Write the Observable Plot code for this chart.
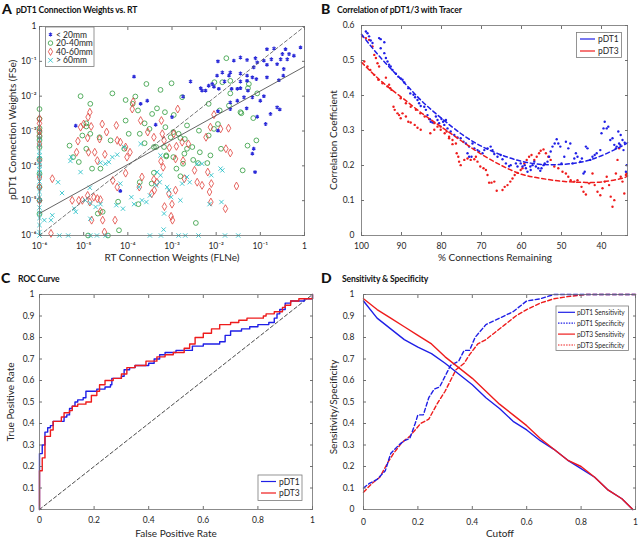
<!DOCTYPE html>
<html><head><meta charset="utf-8">
<script src="https://cdn.jsdelivr.net/npm/d3@7"></script>
<script src="https://cdn.jsdelivr.net/npm/@observablehq/plot@0.6"></script>
<style>
body{margin:0;background:#fff;}
#fig{position:relative;width:640px;height:539px;overflow:hidden;background:#fff;font-family:Lato,"Open Sans",sans-serif;}
.panel{position:absolute;}
.panel svg{display:block;overflow:visible;}
#overlay{position:absolute;left:0;top:0;pointer-events:none;}
</style></head>
<body><div id="fig"></div>
<script>
// ---------- Panel A data: [log10 FLNe, log10 FSe] ----------
const nearPts = [[-0.09,-0.6],[-0.43,-0.65],[-0.69,-0.63],[-0.85,-0.65],[-0.5,-0.79],[-0.39,-0.94],[-0.54,-0.94],[-0.75,-0.94],[-0.92,-0.98],[-1.07,-1.03],[-1.11,-0.91],[-1.3,-0.96],[-1.45,-0.89],[-1.6,-0.98],[-1.96,-1.0],[-1.71,-1.41],[-1.15,-1.17],[-0.85,-1.1],[-0.47,-1.22],[-0.48,-1.41],[-0.58,-1.54],[-1.18,-1.46],[-1.09,-1.51],[-1.68,-1.32],[-1.45,-1.35],[-1.3,-1.41],[-1.86,-1.32],[-1.98,-1.41],[-1.81,-1.58],[-2.09,-1.65],[-2.17,-1.7],[-2.35,-1.77],[-2.32,-1.84],[-2.24,-1.84],[-2.05,-1.73],[-1.94,-1.79],[-1.65,-1.79],[-1.52,-1.79],[-1.45,-1.77],[-1.28,-1.84],[-1.18,-2.03],[-1.37,-2.03],[-1.52,-2.13],[-1.68,-2.18],[-1.0,-2.13],[-0.92,-2.0],[-1.45,-1.58],[-0.85,-1.46],[-0.35,-0.79],[-0.24,-0.84],[-0.62,-1.08],[-1.3,-1.56],[-1.68,-2.37],[-1.96,-2.43],[-1.31,-2.35],[-0.62,-2.32],[-0.56,-2.38],[-0.77,-2.51],[-1.07,-2.59],[-1.96,-2.99],[-0.88,-2.8],[-1.15,-3.51],[-1.18,-3.65],[-1.12,-4.18],[-2.58,-1.58],[-2.75,-2.01],[-3.56,-2.13],[-3.71,-2.22],[-3.86,-1.44],[-3.37,-2.82],[-3.0,-2.6],[-5.18,-2.85],[-4.17,-4.72]];
const midPts = [[-1.77,-0.91],[-1.68,-1.56],[-1.86,-1.6],[-2.04,-1.6],[-1.26,-1.65],[-1.28,-1.77],[-1.68,-1.92],[-1.07,-1.92],[-2.17,-2.22],[-2.77,-2.03],[-3.01,-1.63],[-3.58,-1.65],[-3.26,-1.82],[-3.83,-2.01],[-4.05,-2.11],[-3.89,-2.22],[-4.35,-1.92],[-4.85,-2.22],[-5.07,-2.0],[-3.77,-2.41],[-3.34,-2.35],[-3.16,-2.46],[-3.45,-2.51],[-2.96,-2.54],[-4.05,-2.7],[-3.62,-2.78],[-3.15,-2.89],[-2.97,-3.03],[-2.66,-2.84],[-4.94,-2.78],[-4.94,-2.87],[-4.85,-3.08],[-5.03,-3.13],[-4.64,-3.18],[-5.32,-3.42],[-5.24,-3.75],[-4.94,-3.51],[-4.39,-3.27],[-3.98,-3.08],[-3.62,-3.35],[-3.36,-3.46],[-3.18,-3.46],[-2.85,-3.08],[-2.71,-3.23],[-2.39,-2.99],[-2.17,-3.13],[-2.05,-2.94],[-1.96,-2.8],[-1.45,-2.46],[-1.43,-2.49],[-1.16,-2.63],[-1.09,-3.27],[-1.29,-3.42],[-1.89,-3.51],[-2.13,-3.7],[-1.4,-4.13],[-2.2,-3.92],[-2.41,-3.92],[-2.75,-3.94],[-3.13,-3.7],[-3.13,-3.73],[-2.9,-4.08],[-2.81,-4.3],[-3.46,-4.51],[-3.41,-4.2],[-3.73,-4.47],[-4.22,-5.03],[-3.76,-5.1],[-4.68,-5.37],[-4.2,-5.85],[-2.46,-5.64],[-4.62,-4.08],[-4.81,-4.08],[-5.11,-3.89],[-2.97,-3.75],[-2.72,-3.65],[-2.54,-3.46],[-2.52,-3.83],[-3.41,-3.46],[-4.08,-3.51],[-3.73,-3.08],[-3.51,-2.94],[-3.03,-3.18],[-2.81,-3.2],[-2.66,-3.51],[-2.37,-3.61],[-1.92,-2.41],[-1.71,-2.27],[-4.57,-5.32],
 [-6,-2.37],[-6,-2.65],[-6,-2.92],[-6,-3.03],[-6,-3.16],[-6,-3.26],[-6,-3.46],[-6,-3.8],[-6,-4.23],[-6,-4.61],[-6,-4.99],[-6,-5.38],[-4.9,-6],[-4.45,-6]];
const farPts = [[-3.9,-2.37],[-3.88,-2.16],[-4.86,-2.46],[-4.58,-2.8],[-4.26,-2.84],[-4.9,-2.6],[-5.0,-2.8],[-5.07,-2.89],[-5.13,-3.29],[-4.89,-3.61],[-5.16,-3.61],[-4.91,-3.2],[-4.64,-3.23],[-4.75,-3.61],[-4.52,-3.67],[-4.69,-3.85],[-4.48,-3.03],[-4.24,-3.27],[-4.05,-3.46],[-3.95,-3.61],[-4.02,-3.75],[-4.05,-4.21],[-4.34,-4.42],[-4.24,-4.61],[-3.71,-2.7],[-3.55,-3.03],[-3.41,-3.18],[-3.22,-3.08],[-3.18,-3.27],[-2.96,-3.08],[-3.06,-3.48],[-2.9,-3.44],[-2.77,-3.32],[-2.63,-3.37],[-2.92,-3.8],[-2.75,-3.85],[-3.25,-3.87],[-3.2,-4.04],[-3.34,-4.47],[-3.41,-4.39],[-3.68,-4.32],[-3.74,-4.61],[-3.46,-4.8],[-3.07,-4.8],[-3.0,-5.1],[-2.92,-4.7],[-2.43,-4.47],[-2.19,-4.18],[-2.23,-3.18],[-2.13,-2.89],[-2.05,-2.53],[-1.9,-2.94],[-1.72,-2.92],[-1.78,-3.51],[-1.68,-3.63],[-2.11,-4.51],[-2.15,-4.75],[-2.12,-5.04],[-1.79,-5.23],[-1.54,-4.58],[-2.72,-4.37],[-2.49,-4.13],[-2.32,-4.56],[-3.4,-4.7],[-3.02,-5.45],[-2.99,-5.56],[-3.17,-5.17],[-2.87,-2.37],[-3.24,-2.7],[-5.03,-4.99],[-5.11,-4.99],[-4.77,-4.9],[-4.69,-4.94],[-4.62,-4.97],[-4.86,-5.04],[-4.57,-5.56],[-4.82,-5.56],[-4.53,-5.9],[-4.29,-5.56],[-4.62,-5.31],[-5.71,-4.37],[-5.74,-5.94],[-5.26,-4.99],[-4.83,-2.87],[-4.17,-3.32],[-4.91,-4.85],
 [-6,-2.65],[-6,-2.78],[-6,-2.99],[-6,-3.13],[-6,-3.37],[-6,-3.85],[-6,-4.32],[-6,-4.61],[-6,-4.99]];
const remotePts = [[-4.09,-3.46],[-4.24,-3.68],[-4.35,-3.75],[-4.51,-3.94],[-4.43,-3.89],[-4.62,-3.91],[-5.28,-3.75],[-5.3,-3.86],[-5.07,-4.18],[-5.58,-4.47],[-5.49,-4.78],[-5.71,-5.42],[-5.74,-5.56],[-5.89,-5.56],[-4.86,-4.63],[-4.96,-4.99],[-4.85,-5.07],[-4.62,-5.1],[-4.73,-5.18],[-4.85,-5.52],[-5.21,-5.23],[-5.18,-5.32],[-4.17,-4.51],[-3.75,-4.61],[-3.68,-4.99],[-3.86,-5.1],[-3.34,-4.18],[-3.26,-4.27],[-3.28,-4.47],[-3.36,-4.56],[-3.11,-4.61],[-3.07,-4.7],[-2.77,-4.51],[-2.66,-4.32],[-2.6,-4.47],[-2.43,-3.94],[-2.32,-3.94],[-2.11,-4.27],[-1.9,-4.08],[-1.86,-4.13],[-1.88,-5.04],[-2.15,-5.1],[-3.18,-5.37],[-3.19,-5.83],[-3.71,-3.37],[-4.11,-5.23],[-4.26,-5.13],[-3.5,-4.85],[-3.58,-5.04],[-3.92,-4.9],[-3.26,-3.7],[-3.02,-4.9],[-2.81,-4.99],
 [-6,-3.2],[-6,-3.4],[-6,-3.6],[-6,-3.7],[-6,-3.8],[-6,-3.9],[-6,-4.0],[-6,-4.1],[-6,-4.2],[-6,-4.3],[-6,-4.45],[-6,-4.6],[-6,-4.75],[-6,-4.9],[-6,-5.0],[-6,-5.2],[-6,-5.35],[-6,-5.5],[-6,-5.7],[-6,-5.9],[-6,-6],
 [-5.55,-6],[-5.35,-6],[-4.85,-6],[-4.7,-6],[-4.5,-6],[-3.5,-6],[-3.25,-6],[-2.85,-6],[-2.7,-6],[-2.4,-6],[-1.8,-6],[-1.5,-6]];
const groupNames = ["< 20mm","20-40mm","40-60mm","> 60mm"];
const fitLineA = [[1e-6, 4.3e-6],[1, 0.071]];   // regression line endpoints
const unityLineA = [[1e-6, 1e-6],[1, 1]];
const logTicksA = [1e-6,1e-5,1e-4,1e-3,1e-2,1e-1,1];

// ---------- Panel B data: [% remaining, correlation] ----------
const bDT1 = [[98.9,0.583],[98.5,0.578],[98.1,0.569],[97.7,0.557],[97.25,0.55],[95.6,0.564],[95.2,0.561],[94.3,0.552],[95.2,0.535],[94.3,0.521],[93.9,0.507],[93.5,0.497],[93.1,0.488],[92.7,0.483],[92.25,0.473],[91.4,0.462],[90.8,0.454],[90.2,0.449],[89.75,0.445],[89.3,0.437],[88.3,0.421],[87.8,0.406],[87.0,0.402],[86.6,0.395],[86.0,0.387],[85.6,0.378],[85.2,0.37],[84.3,0.368],[83.9,0.359],[83.5,0.344],[82.9,0.332],[82.7,0.325],[82.25,0.323],[81.4,0.34],[81.0,0.33],[80.6,0.321],[80.0,0.333],[79.6,0.325],[78.9,0.33],[79.3,0.316],[78.5,0.306],[77.7,0.297],[76.8,0.287],[76.0,0.28],[75.2,0.278],[74.5,0.268],[73.9,0.263],[73.1,0.254],[72.25,0.263],[71.8,0.249],[71.0,0.244],[70.6,0.24],[73.5,0.235],[73.1,0.225],[72.5,0.225],[69.75,0.235],[69.3,0.244],[68.5,0.249],[67.7,0.254],[67.25,0.244],[66.8,0.233],[66.0,0.225],[65.2,0.23],[64.75,0.218],[63.9,0.206],[63.1,0.198],[62.7,0.201],[61.4,0.206],[61.0,0.197],[60.2,0.206],[59.75,0.197],[59.2,0.201],[58.9,0.192],[58.5,0.182],[57.8,0.197],[57.7,0.187],[57.25,0.201],[56.8,0.211],[56.4,0.197],[55.8,0.192],[55.3,0.185],[55.0,0.192],[54.5,0.201],[54.2,0.206],[53.5,0.211],[53.1,0.225],[52.7,0.24],[52.25,0.254],[51.7,0.263],[51.2,0.275],[50.8,0.263],[50.3,0.254],[50.0,0.206],[49.3,0.225],[48.9,0.268],[48.3,0.249],[47.8,0.263],[47.25,0.206],[46.8,0.22],[46.4,0.235],[46.0,0.225],[45.3,0.211],[44.9,0.22],[44.5,0.177],[44.2,0.182],[43.9,0.254],[43.5,0.249],[42.8,0.216],[42.25,0.225],[41.7,0.23],[41.2,0.235],[40.3,0.244],[40.0,0.292],[39.5,0.306],[39.2,0.325],[38.7,0.306],[38.3,0.311],[37.8,0.273],[37.25,0.278],[36.8,0.259],[36.4,0.249],[36.2,0.254],[35.6,0.263],[35.3,0.259],[34.75,0.273],[34.5,0.244],[34.2,0.265],[33.9,0.182],[33.7,0.201],[35.8,0.297],[35.2,0.287]];
const bDT3 = [[99.75,0.569],[98.9,0.564],[98.1,0.559],[97.25,0.54],[96.8,0.516],[96.4,0.507],[96.0,0.492],[95.6,0.483],[99.3,0.497],[98.5,0.483],[97.8,0.473],[96.8,0.459],[95.8,0.445],[94.75,0.435],[93.9,0.451],[93.5,0.426],[92.8,0.421],[92.5,0.416],[93.1,0.431],[92.0,0.368],[91.7,0.359],[91.0,0.349],[90.6,0.344],[90.2,0.335],[89.75,0.349],[88.9,0.34],[88.3,0.325],[87.7,0.323],[86.7,0.316],[86.0,0.308],[85.2,0.302],[90.2,0.392],[88.9,0.378],[87.7,0.368],[86.4,0.359],[85.3,0.349],[84.2,0.34],[83.1,0.333],[81.8,0.321],[81.0,0.311],[80.2,0.302],[79.2,0.292],[78.1,0.282],[77.25,0.273],[76.4,0.263],[82.8,0.292],[81.8,0.302],[80.2,0.311],[78.7,0.297],[78.1,0.278],[77.25,0.261],[76.2,0.235],[75.8,0.225],[75.6,0.211],[75.2,0.201],[74.3,0.216],[73.5,0.22],[72.7,0.216],[71.8,0.218],[71.4,0.225],[71.0,0.211],[70.3,0.197],[69.5,0.192],[68.9,0.187],[68.5,0.173],[68.1,0.151],[67.5,0.151],[66.8,0.154],[66.2,0.128],[64.75,0.13],[64.2,0.139],[63.5,0.144],[62.8,0.154],[62.25,0.163],[61.7,0.173],[61.0,0.179],[60.2,0.187],[59.75,0.192],[59.3,0.206],[58.7,0.216],[58.1,0.225],[57.5,0.23],[56.8,0.216],[56.2,0.225],[55.6,0.235],[55.2,0.242],[54.5,0.246],[53.9,0.235],[53.3,0.225],[52.7,0.216],[51.8,0.197],[50.8,0.192],[49.75,0.182],[48.9,0.177],[48.3,0.168],[47.7,0.158],[46.8,0.154],[46.0,0.158],[45.0,0.139],[44.5,0.125],[43.9,0.117],[43.1,0.149],[42.25,0.177],[41.7,0.144],[41.0,0.125],[40.3,0.115],[39.75,0.135],[39.2,0.154],[38.7,0.168],[38.1,0.144],[37.7,0.111],[37.25,0.082],[36.8,0.101],[36.4,0.177],[36.0,0.216],[35.6,0.249],[35.2,0.168],[34.75,0.154],[34.3,0.12],[33.9,0.173],[33.7,0.177]];
const fitX = [100,95,90,85,80,75,70,65,60,55,50,45,40,35,33.5];
const fitDT1 = [0.575,0.505,0.445,0.385,0.335,0.29,0.255,0.23,0.212,0.203,0.203,0.21,0.228,0.255,0.265];
const fitDT3 = [0.495,0.44,0.395,0.35,0.31,0.27,0.232,0.2,0.175,0.163,0.155,0.152,0.153,0.163,0.17];
const ticksB = [100,90,80,70,60,50,40];
const yTicksB = [0,0.1,0.2,0.3,0.4,0.5,0.6];

// ---------- Panel C data: ROC ----------
const rocFpr1 = [0,0,0.01,0.02,0.03,0.04,0.05,0.09,0.10,0.11,0.12,0.13,0.14,0.16,0.17,0.21,0.24,0.26,0.265,0.3,0.31,0.33,0.35,0.4,0.42,0.44,0.46,0.5,0.56,0.6,0.66,0.68,0.7,0.74,0.77,0.8,0.84,0.86,0.87,0.88,0.9,0.92,0.97,1];
const rocTpr1 = [0,0.26,0.30,0.36,0.38,0.39,0.41,0.43,0.44,0.47,0.48,0.50,0.51,0.52,0.55,0.56,0.57,0.58,0.61,0.62,0.65,0.66,0.67,0.68,0.70,0.72,0.73,0.74,0.76,0.77,0.78,0.81,0.83,0.84,0.85,0.86,0.87,0.89,0.91,0.93,0.96,0.97,0.98,1];
const rocFpr3 = [0,0,0.01,0.02,0.04,0.05,0.08,0.09,0.11,0.12,0.14,0.17,0.19,0.21,0.22,0.24,0.27,0.3,0.32,0.35,0.39,0.43,0.46,0.49,0.53,0.55,0.57,0.6,0.63,0.66,0.7,0.73,0.76,0.82,0.83,0.86,0.89,0.9,0.92,0.95,1];
const rocTpr3 = [0,0.18,0.24,0.34,0.37,0.41,0.43,0.45,0.46,0.48,0.49,0.50,0.53,0.55,0.58,0.6,0.61,0.63,0.66,0.67,0.69,0.71,0.72,0.73,0.75,0.77,0.8,0.82,0.84,0.86,0.87,0.88,0.89,0.90,0.91,0.92,0.94,0.95,0.97,0.98,1];
const unitTicks = [0,0.2,0.4,0.6,0.8,1];
const tenthTicks = [0,0.1,0.2,0.3,0.4,0.5,0.6,0.7,0.8,0.9,1];

// ---------- Panel D data ----------
const cutSens = [0,0.05,0.1,0.15,0.2,0.25,0.3,0.35,0.4,0.45,0.5,0.55,0.6,0.65,0.7,0.75,0.8,0.85,0.9,0.95,0.99];
const sensDT1 = [0.97,0.89,0.84,0.79,0.755,0.725,0.68,0.63,0.58,0.52,0.47,0.41,0.37,0.32,0.28,0.23,0.19,0.15,0.09,0.05,0];
const sensDT3 = [0.98,0.93,0.89,0.85,0.81,0.77,0.71,0.66,0.61,0.55,0.49,0.44,0.39,0.33,0.28,0.23,0.20,0.15,0.09,0.05,0];
const cutSpec1 = [0,0.02,0.05,0.08,0.1,0.13,0.15,0.17,0.19,0.2,0.22,0.24,0.26,0.28,0.3,0.32,0.35,0.37,0.39,0.41,0.43,0.45,0.5,0.55,0.58,0.6,0.65,0.7,1];
const specDT1 = [0.10,0.12,0.14,0.18,0.26,0.3,0.32,0.33,0.4,0.44,0.44,0.52,0.56,0.57,0.62,0.67,0.69,0.74,0.74,0.8,0.83,0.86,0.89,0.92,0.95,0.97,0.98,1,1];
const cutSpec3 = [0,0.03,0.06,0.09,0.11,0.14,0.17,0.19,0.21,0.24,0.27,0.3,0.32,0.34,0.37,0.39,0.42,0.45,0.48,0.52,0.56,0.6,0.65,0.7,0.75,0.82,1];
const specDT3 = [0.08,0.12,0.15,0.22,0.26,0.31,0.34,0.37,0.40,0.42,0.49,0.55,0.6,0.65,0.68,0.72,0.77,0.79,0.82,0.86,0.9,0.93,0.96,0.98,0.99,1,1];

// ---------- styling ----------
const BLUE = "#1f1fe6", RED = "#ee1c1c";
const C_NEAR = "#2a2ad8", C_MID = "#2f9a3c", C_FAR = "#e0433c", C_REM = "#1cbcc4";
const AX = "#6f6f6f", TXT = "#262626";
const supMap = {"-":"\u207B","0":"\u2070","1":"\u00B9","2":"\u00B2","3":"\u00B3","4":"\u2074","5":"\u2075","6":"\u2076","7":"\u2077","8":"\u2078","9":"\u2079"};
const pow10 = d => { const e = Math.round(Math.log10(d)); return e === 0 ? "1" : "10" + String(e).split("").map(c => supMap[c]).join(""); };
const dec = d => String(+d.toFixed(2));
const blank = () => "";

function box(xt, yt, xf, yf, xPad, yPad) {
  return [
    Plot.frame({stroke: AX, strokeWidth: 0.8}),
    Plot.axisX(xt, {anchor: "bottom", tickSize: -3, tickPadding: xPad, tickFormat: xf, label: null, stroke: AX, fill: TXT}),
    Plot.axisX(xt, {anchor: "top", tickSize: -3, tickFormat: blank, label: null, stroke: AX}),
    Plot.axisY(yt, {anchor: "left", tickSize: -3, tickPadding: yPad, tickFormat: yf, label: null, stroke: AX, fill: TXT}),
    Plot.axisY(yt, {anchor: "right", tickSize: -3, tickFormat: blank, label: null, stroke: AX})
  ];
}
const baseStyle = {fontFamily: "Lato, 'Open Sans', sans-serif", fontSize: "8.5px", color: TXT, background: "transparent", overflow: "visible"};
const fig = document.getElementById("fig");
function place(svg, left, top) { const d = document.createElement("div"); d.className = "panel"; d.style.left = left + "px"; d.style.top = top + "px"; d.appendChild(svg); fig.appendChild(d); }

// ---------- A ----------
const aRows = [];
[nearPts, midPts, farPts, remotePts].forEach((pts, i) => pts.forEach(([lx, ly]) => aRows.push({flne: 10 ** lx, fse: 10 ** ly, group: groupNames[i]})));
const sel = g => aRows.filter(r => r.group === g);
const plotA = Plot.plot({
  width: 320, height: 270, marginLeft: 39, marginRight: 16, marginTop: 26, marginBottom: 35,
  style: baseStyle,
  x: {type: "log", domain: [1e-6, 1]}, y: {type: "log", domain: [1e-6, 1]},
  marks: [
    Plot.dot(sel(groupNames[1]), {x: "flne", y: "fse", symbol: "circle", r: 2.4, stroke: C_MID, fill: "none", strokeWidth: 0.8}),
    Plot.dot(sel(groupNames[2]), {x: "flne", y: "fse", symbol: "diamond", r: 2.4, stroke: C_FAR, fill: "none", strokeWidth: 0.8}),
    Plot.dot(sel(groupNames[3]), {x: "flne", y: "fse", symbol: "times", r: 2.1, stroke: C_REM, fill: "none", strokeWidth: 0.8}),
    Plot.dot(sel(groupNames[0]), {x: "flne", y: "fse", symbol: "asterisk", r: 1.8, stroke: C_NEAR, fill: "none", strokeWidth: 1.2}),
    Plot.line(unityLineA, {x: d => d[0], y: d => d[1], stroke: "#555", strokeWidth: 0.8, strokeDasharray: "3.5,2.5"}),
    Plot.line(fitLineA, {x: d => d[0], y: d => d[1], stroke: "#555", strokeWidth: 0.9}),
    ...box(logTicksA, logTicksA, pow10, pow10, 10, 6)
  ]
});
place(plotA, 0, 0);

// ---------- B ----------
const bRows1 = bDT1.map(([x, y]) => ({x, y})), bRows3 = bDT3.map(([x, y]) => ({x, y}));
const fitRows = fitX.map((x, i) => ({x, f1: fitDT1[i], f3: fitDT3[i]}));
const plotB = Plot.plot({
  width: 320, height: 270, marginLeft: 41, marginRight: 13, marginTop: 25, marginBottom: 35,
  style: baseStyle,
  x: {domain: [100, 33.5]}, y: {domain: [0, 0.6]},
  marks: [
    Plot.dot(bRows3, {x: "x", y: "y", r: 1.2, fill: RED}),
    Plot.dot(bRows1, {x: "x", y: "y", r: 1.2, fill: BLUE}),
    Plot.line(fitRows, {x: "x", y: "f1", stroke: BLUE, strokeWidth: 1.5, strokeDasharray: "4,3", curve: "natural"}),
    Plot.line(fitRows, {x: "x", y: "f3", stroke: RED, strokeWidth: 1.5, strokeDasharray: "4,3", curve: "natural"}),
    ...box(ticksB, yTicksB, String, dec, 10, 10)
  ]
});
place(plotB, 320, 0);

// ---------- C ----------
const roc1 = rocFpr1.map((x, i) => ({x, y: rocTpr1[i]}));
const roc3 = rocFpr3.map((x, i) => ({x, y: rocTpr3[i]}));
const plotC = Plot.plot({
  width: 320, height: 269, marginLeft: 39, marginRight: 8, marginTop: 24, marginBottom: 30,
  style: baseStyle,
  x: {domain: [0, 1]}, y: {domain: [0, 1]},
  marks: [
    Plot.line([0, 1], {x: d => d, y: d => d, stroke: "#333", strokeWidth: 0.9, strokeDasharray: "3.5,2.5"}),
    Plot.line(roc1, {x: "x", y: "y", curve: "step-after", stroke: BLUE, strokeWidth: 1.4}),
    Plot.line(roc3, {x: "x", y: "y", curve: "step-after", stroke: RED, strokeWidth: 1.4}),
    ...box(unitTicks, tenthTicks, dec, dec, 10, 8)
  ]
});
place(plotC, 0, 270);

// ---------- D ----------
const s1 = cutSens.map((x, i) => ({x, y: sensDT1[i]}));
const s3 = cutSens.map((x, i) => ({x, y: sensDT3[i]}));
const p1 = cutSpec1.map((x, i) => ({x, y: specDT1[i]}));
const p3 = cutSpec3.map((x, i) => ({x, y: specDT3[i]}));
const plotD = Plot.plot({
  width: 320, height: 269, marginLeft: 43, marginRight: 5, marginTop: 24, marginBottom: 30,
  style: baseStyle,
  x: {domain: [0, 1]}, y: {domain: [0, 1]},
  marks: [
    Plot.line(p3, {x: "x", y: "y", stroke: RED, strokeWidth: 1.4, strokeDasharray: "4,2.5"}),
    Plot.line(p1, {x: "x", y: "y", stroke: BLUE, strokeWidth: 1.4, strokeDasharray: "4,2.5"}),
    Plot.line(s1, {x: "x", y: "y", stroke: BLUE, strokeWidth: 1.4}),
    Plot.line(s3, {x: "x", y: "y", stroke: RED, strokeWidth: 1.4}),
    ...box(unitTicks, tenthTicks, dec, dec, 12, 12)
  ]
});
place(plotD, 320, 270);

// ---------- overlay: titles, axis labels, legends ----------
const NS = "http://www.w3.org/2000/svg";
const ov = document.createElementNS(NS, "svg");
ov.setAttribute("id", "overlay"); ov.setAttribute("width", 640); ov.setAttribute("height", 539);
ov.style.fontFamily = "Lato, 'Open Sans', sans-serif";
fig.appendChild(ov);
function el(tag, attrs, text) { const e = document.createElementNS(NS, tag); for (const k in attrs) e.setAttribute(k, attrs[k]); if (text != null) e.textContent = text; ov.appendChild(e); return e; }
function txt(x, y, s, o = {}) { return el("text", Object.assign({x, y, fill: "#111", "font-size": 10}, o), s); }
// panel letters & titles
[["A", 2, 13.5, "pDT1 Connection Weights vs. RT", 16, 12.5],
 ["B", 321, 13.5, "Correlation of pDT1/3 with Tracer", 337, 12.5],
 ["C", 1, 283, "ROC Curve", 18, 282],
 ["D", 321, 283, "Sensitivity & Specificity", 342, 282]].forEach(([L, lx, ly, t, tx, ty]) => {
  txt(lx, ly, L, {"font-size": 14, "font-weight": 900});
  txt(tx, ty, t, {"font-size": 8.6, "font-weight": 700, "letter-spacing": "-0.15"});
});
// axis labels
function xlab(cx, cy, s) { txt(cx, cy, s, {"text-anchor": "middle", "dominant-baseline": "central", fill: TXT}); }
function ylab(cx, cy, s) { txt(0, 0, s, {"text-anchor": "middle", "dominant-baseline": "central", fill: TXT, transform: `translate(${cx},${cy}) rotate(-90)`}); }
xlab(172, 257, "RT Connection Weights (FLNe)"); ylab(12, 130, "pDT1 Connection Weights (FSe)");
xlab(495, 257, "% Connections Remaining"); ylab(333, 140, "Correlation Coefficient");
xlab(176, 533, "False Positive Rate"); ylab(10, 402, "True Positive Rate");
xlab(500, 533, "Cutoff"); ylab(333, 407, "Sensitivity/Specificity");
// legend A
el("rect", {x: 45.5, y: 27, width: 48.5, height: 39.5, fill: "#fff", stroke: "#7a7a7a", "stroke-width": 0.8});
const symA = [d3.symbolAsterisk, d3.symbolCircle, d3.symbolDiamond, d3.symbolTimes];
const colA = [C_NEAR, C_MID, C_FAR, C_REM];
groupNames.forEach((g, i) => {
  const cy = 34.5 + i * 8.6;
  el("path", {d: d3.symbol(symA[i], i === 0 ? 10 : 16)(), transform: `translate(50.5,${cy})`, fill: "none", stroke: colA[i], "stroke-width": i === 0 ? 1.1 : 0.8});
  txt(56, cy, g, {"font-size": 8.5, "dominant-baseline": "central", fill: TXT});
});
// line legends
function lineLegend(bx, by, bw, bh, x1, x2, tx, rows, fs) {
  el("rect", {x: bx, y: by, width: bw, height: bh, fill: "#fff", stroke: "#7a7a7a", "stroke-width": 0.8});
  rows.forEach(([label, color, dash, cy]) => {
    el("line", {x1, x2, y1: cy, y2: cy, stroke: color, "stroke-width": 1.2, "stroke-dasharray": dash || null});
    txt(tx, cy, label, {"font-size": fs, "dominant-baseline": "central", fill: TXT});
  });
}
lineLegend(576.5, 32.5, 45, 25, 580, 595, 598, [["pDT1", BLUE, null, 39], ["pDT3", RED, null, 51]], 8.5);
lineLegend(258, 475, 44, 25.5, 261, 276, 279, [["pDT1", BLUE, null, 481.5], ["pDT3", RED, null, 493]], 8.5);
lineLegend(556, 306, 72.5, 44.5, 558, 575, 577, [["pDT1 Sensitivity", BLUE, null, 312.3], ["pDT1 Specificity", BLUE, "1.5,1.2", 323.2], ["pDT3 Sensitivity", RED, null, 334.1], ["pDT3 Specificity", RED, "1.5,1.2", 345]], 6.6);
</script>
</body></html>
